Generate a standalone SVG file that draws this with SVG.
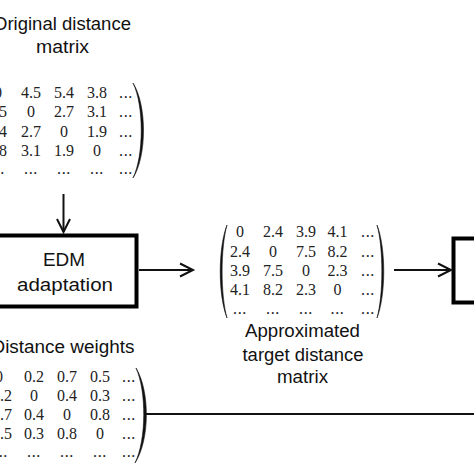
<svg xmlns="http://www.w3.org/2000/svg" width="474" height="474" viewBox="0 0 474 474">
<style>
.lbl{font-family:"Liberation Sans",Arial,sans-serif;font-size:17.5px;fill:#111;text-anchor:middle}
.m{font-family:"Liberation Serif","Times New Roman",serif;font-size:16px;fill:#222;text-anchor:middle}
.d{letter-spacing:0.6px}
.par{fill:#111;stroke:#111;stroke-width:0.6}
.box{fill:#fff;stroke:#000;stroke-width:4}
.con{fill:none;stroke:#111;stroke-width:2}
</style>
<defs>
<marker id="ah" markerUnits="userSpaceOnUse" markerWidth="20" markerHeight="20" refX="14" refY="10" orient="auto" viewBox="0 0 20 20">
<path d="M1,3.5 L14,10 L1,16.5" fill="none" stroke="#111" stroke-width="2"/>
</marker>
</defs>
<rect width="474" height="474" fill="#fff"/>

<g id="original-matrix">
<text class="lbl" x="62" y="30" textLength="138" lengthAdjust="spacingAndGlyphs">Original distance</text>
<text class="lbl" x="62.5" y="53" textLength="53" lengthAdjust="spacingAndGlyphs">matrix</text>
<g class="m">
<text x="-2" y="98">0</text><text x="31" y="98">4.5</text><text x="64" y="98">5.4</text><text x="97" y="98">3.8</text><text class="d" x="126" y="98">...</text>
<text x="-3" y="117">4.5</text><text x="31" y="117">0</text><text x="64" y="117">2.7</text><text x="97" y="117">3.1</text><text class="d" x="126" y="117">...</text>
<text x="-3" y="137">5.4</text><text x="31" y="137">2.7</text><text x="64" y="137">0</text><text x="97" y="137">1.9</text><text class="d" x="126" y="137">...</text>
<text x="-3" y="156">3.8</text><text x="31" y="156">3.1</text><text x="64" y="156">1.9</text><text x="97" y="156">0</text><text class="d" x="126" y="156">...</text>
<text class="d" x="-2" y="174">...</text><text class="d" x="31" y="174">...</text><text class="d" x="64" y="174">...</text><text class="d" x="97" y="174">...</text><text class="d" x="126" y="174">...</text>
</g>
<path class="par" d="M133,83 C147,105 147,156 133,178 C144,156 144,105 133,83 Z"/>
</g>

<g id="edm-adaptation">
<rect class="box" x="-10" y="235.5" width="146.5" height="71"/>
<text class="lbl" x="64" y="266" textLength="42" lengthAdjust="spacingAndGlyphs">EDM</text>
<text class="lbl" x="65" y="291" textLength="96" lengthAdjust="spacingAndGlyphs">adaptation</text>
</g>

<g id="approximated-matrix">
<g class="m">
<text x="240" y="237">0</text><text x="273" y="237">2.4</text><text x="306" y="237">3.9</text><text x="337.5" y="237">4.1</text><text class="d" x="368" y="237">...</text>
<text x="240" y="257">2.4</text><text x="273" y="257">0</text><text x="306" y="257">7.5</text><text x="337.5" y="257">8.2</text><text class="d" x="368" y="257">...</text>
<text x="240" y="276">3.9</text><text x="273" y="276">7.5</text><text x="306" y="276">0</text><text x="337.5" y="276">2.3</text><text class="d" x="368" y="276">...</text>
<text x="240" y="295">4.1</text><text x="273" y="295">8.2</text><text x="306" y="295">2.3</text><text x="337.5" y="295">0</text><text class="d" x="368" y="295">...</text>
<text class="d" x="240" y="314">...</text><text class="d" x="273" y="314">...</text><text class="d" x="306" y="314">...</text><text class="d" x="337.5" y="314">...</text><text class="d" x="368" y="314">...</text>
</g>
<path class="par" d="M227,225 C218,248 218,295 227,318 C220.5,295 220.5,248 227,225 Z"/>
<path class="par" d="M377,225 C386,248 386,295 377,318 C383.5,295 383.5,248 377,225 Z"/>
<text class="lbl" x="302.5" y="337" textLength="115" lengthAdjust="spacingAndGlyphs">Approximated</text>
<text class="lbl" x="303" y="361" textLength="121" lengthAdjust="spacingAndGlyphs">target distance</text>
<text class="lbl" x="302.5" y="383" textLength="51" lengthAdjust="spacingAndGlyphs">matrix</text>
</g>

<g id="distance-weights">
<text class="lbl" x="63" y="353" textLength="143" lengthAdjust="spacingAndGlyphs">Distance weights</text>
<g class="m">
<text x="-1" y="382">0</text><text x="34" y="382">0.2</text><text x="67" y="382">0.7</text><text x="100" y="382">0.5</text><text class="d" x="129" y="382">...</text>
<text x="2" y="401">0.2</text><text x="34" y="401">0</text><text x="67" y="401">0.4</text><text x="100" y="401">0.3</text><text class="d" x="129" y="401">...</text>
<text x="2" y="420">0.7</text><text x="34" y="420">0.4</text><text x="67" y="420">0</text><text x="100" y="420">0.8</text><text class="d" x="129" y="420">...</text>
<text x="2" y="439">0.5</text><text x="34" y="439">0.3</text><text x="67" y="439">0.8</text><text x="100" y="439">0</text><text class="d" x="129" y="439">...</text>
<text class="d" x="1" y="457">...</text><text class="d" x="34" y="457">...</text><text class="d" x="67" y="457">...</text><text class="d" x="100" y="457">...</text><text class="d" x="129" y="457">...</text>
</g>
<path class="par" d="M136,368 C150,391 150,440 135,463 C146.5,440 146.5,391 136,368 Z"/>
</g>

<g id="right-box">
<rect class="box" x="453.5" y="238.5" width="40" height="64"/>
</g>

<g id="connectors">
<line class="con" x1="63.5" y1="194" x2="63.5" y2="232" marker-end="url(#ah)"/>
<line class="con" x1="139" y1="270" x2="193" y2="270" marker-end="url(#ah)"/>
<line class="con" x1="394" y1="270" x2="451" y2="270" marker-end="url(#ah)"/>
<line class="con" x1="146" y1="414" x2="474" y2="414" stroke-width="2.6"/>
</g>
</svg>
